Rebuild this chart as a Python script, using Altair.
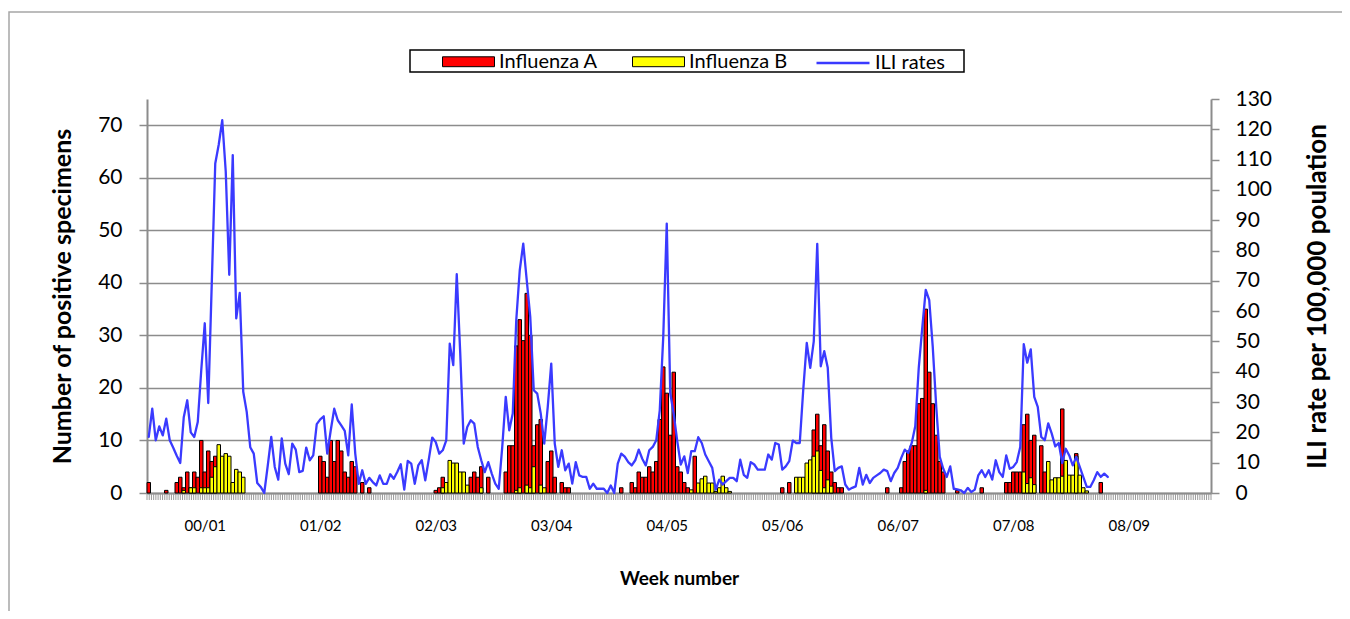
import altair as alt
import numpy as np
import pandas as pd

# ---- data (one value per surveillance week, 33 weeks per block) ----
SEASON_LABELS = ["00/01", "01/02", "02/03", "03/04", "04/05", "05/06", "06/07", "07/08", "08/09"]
WEEKS_PER_SEASON = 33
N_SLOTS = 304

ili_rates = [
    18.5, 27.8, 17.4, 22, 19, 24.5, 17.4, 14.9, 12.3, 9.9, 25, 30.6, 20, 18.5, 23.4, 40.5, 56, 29.7, 69, 108.7, 115, 123, 106, 72, 111.5, 57.6, 66, 33.4, 26.7, 15.1, 13, 3.3, 2,
    0, 9, 18.5, 8.6, 4.4, 18, 9.7, 6.2, 16.3, 14.3, 6.9, 7.3, 15, 10.8, 12.4, 22.7, 24.3, 25.3, 13, 20.7, 27.8, 24, 22.3, 20.5, 12.4, 29.2, 13, 3, 7.5, 3, 5, 3.6, 2.5,
    5.8, 3, 3, 6.2, 4.7, 6.9, 9.5, 1.1, 10.6, 9.7, 3, 9.1, 10.8, 4.2, 11, 18.3, 16.8, 13, 14.1, 17.4, 49.3, 42.2, 72.2, 46, 16.3, 21.8, 24, 22.9, 15.2, 10.8, 6.9, 10.2, 6.4,
    3.1, 1.4, 15.2, 31.7, 20.7, 26.2, 57, 73.5, 82.3, 70.2, 58.1, 33.9, 32.8, 26.2, 16.3, 28.4, 42.7, 16.3, 8.6, 14.1, 7.5, 9.7, 3.1, 10.2, 5.8, 5.3, 5.3, 1.4, 3.1, 1.4, 1.4, 1.4, 0,
    2.5, 0, 9.7, 13, 12, 10.2, 9.1, 10.8, 14.3, 11.3, 9.1, 14.1, 15.2, 17.4, 27.3, 51.5, 88.9, 33, 26, 17.1, 9.4, 12.1, 6.6, 13.8, 13.8, 18.4, 16.5, 12.7, 10.5, 8.3, 1.1, 4.4, 2.8,
    3.9, 5, 5, 3.9, 11, 6, 5, 10.2, 9.4, 7.7, 7.7, 7.7, 12.7, 11, 16.5, 16, 7.7, 8.8, 10.5, 17.3, 16.5, 16.5, 34.1, 49.5, 41.3, 50, 82.2, 41.8, 46.8, 41.3, 18.2, 7.2, 8.3,
    8.8, 2.8, 1.1, 1.7, 2.2, 8.3, 2.8, 6, 3.3, 5, 5.8, 6.6, 7.7, 7.2, 3.9, 6.6, 8.3, 11.6, 14.3, 13.2, 16.5, 22, 41.3, 54.5, 67, 63.6, 48.2, 28.4, 11.9, 8, 5.3, 8.8, 1.4,
    1.2, 0.9, 0, 1.7, 0.3, 1.1, 5.8, 7.5, 5.3, 7.5, 4.4, 10.8, 6.9, 5.3, 12.4, 8, 8.6, 10.2, 15.2, 49.1, 43, 47.4, 31.7, 28.4, 18.5, 17.4, 23, 19.6, 15.4, 16.5, 9.9, 14.6, 12.4,
    9.1, 11.9, 8.6, 5.3, 2, 2, 4.2, 6.9, 5.3, 6.4, 5.3,
]

influenza_a = (
    [2, 0, 0, 0, 0, 0.5, 0, 0, 2, 3, 1, 4, 1, 4, 3, 10, 4, 8, 6, 7] + [0] * 13
    + [0] * 16 + [7, 6, 3, 10, 6, 10, 8, 4, 3, 6, 5, 0, 2, 0, 1] + [0, 0]
    + [0] * 16 + [0.5, 1, 3] + [0] * 7 + [3, 4, 3, 5, 0, 3, 0]
    + [0] * 3 + [4, 9, 9, 28, 33, 29, 38, 30, 9, 13, 14, 0, 6, 8, 3, 0, 2, 1, 1] + [0] * 11
    + [0] * 3 + [1, 0, 0] + [2, 1, 4, 3, 3, 5, 4, 6, 14, 24, 19, 11, 23, 5, 4, 2, 1] + [0, 7] + [0] * 8
    + [0] * 16 + [1, 0, 2] + [0] * 6 + [12, 15, 9, 13, 8, 4, 2, 1]
    + [1] + [0] * 12 + [1] + [0] * 3 + [1, 6, 8, 9, 9, 17, 18, 35, 23, 17, 11, 6, 4] + [0] * 3
    + [0.5] + [0] * 6 + [1] + [0] * 6 + [2, 2, 4, 4, 4, 13, 15, 10, 11, 0, 9, 4] + [0] * 4 + [16, 0, 0]
    + [0, 7.5, 0, 0, 0, 0, 0, 0, 2, 0, 0]
)

influenza_b = (
    [0] * 10 + [0.5, 0, 1, 1, 0, 1, 1, 1, 3, 5, 9.2, 7, 7.5, 7, 2, 4.5, 4, 3] + [0] * 5
    + [0] * 33
    + [0] * 18 + [1, 2, 6.2, 5.7, 5.7, 4, 4, 1.5] + [0] * 3 + [1] + [0] * 3
    + [0] * 6 + [0.5, 1, 0, 1.5, 1, 5, 0, 1.5, 1] + [0] * 18
    + [0] * 23 + [0.6, 0] + [1.9, 2.7, 3.2, 1.9, 1.9, 0.3, 1, 3.2]
    + [1, 0.3] + [0] * 18 + [3, 3, 3, 5.7, 6.3, 7, 8, 4.3, 1, 2.5, 1.3] + [0, 0]
    + [0] * 24 + [0.5] + [0] * 8
    + [0] * 19 + [4, 1.8, 2.9, 1.6, 0, 0, 0, 6, 2.5, 2.9, 2.9, 3.2, 6.2, 3.4]
    + [3.4, 7, 3.4, 1, 0.4, 0, 0, 0, 0, 0, 0]
)

# ---- tables ----
n = len(ili_rates)
weeks = pd.DataFrame({
    "slot": np.arange(n),
    "ili": ili_rates,
    "A": influenza_a,
    "B": influenza_b,
})
weeks["slot_end"] = weeks["slot"] + 1
weeks["mid"] = weeks["slot"] + 0.5
weeks["line_series"] = "ILI rates"

a_rows = weeks[weeks["A"] > 0].assign(series="Influenza A", n_pos=lambda d: d["A"])
b_rows = weeks[weeks["B"] > 0].assign(series="Influenza B", n_pos=lambda d: d["B"])
bars_df = pd.concat([a_rows, b_rows], ignore_index=True)
bars_df["base"] = 0

label_values = [WEEKS_PER_SEASON * k + WEEKS_PER_SEASON / 2 for k in range(len(SEASON_LABELS))]
label_expr = ("[" + ",".join("'%s'" % s for s in SEASON_LABELS) + "]"
              "[round((datum.value - 16.5) / 33)]")
minor_ticks = pd.DataFrame({"t": np.linspace(0, N_SLOTS, 480)})
one = pd.DataFrame({"k": [0]})

W, H = 1064, 394
GRID = "#8c8c8c"
FONT = "Lato"

xscale = alt.Scale(domain=[0, N_SLOTS], nice=False, zero=False)
x_axis = alt.Axis(
    values=label_values, labelExpr=label_expr, ticks=False, grid=False,
    domainColor=GRID, domainWidth=2, labelFont=FONT, labelFontSize=15, labelColor="black",
    labelPadding=25, labelOverlap=False, labelFlush=False,
    title="Week number", titleFont=FONT, titleFontSize=19, titleFontWeight="bold",
    titleColor="black", titlePadding=36)

frame = alt.Chart(one).mark_rect(fillOpacity=0, stroke="#a6a6a6", strokeWidth=1.5).encode(
    x=alt.value(-138), x2=alt.value(1400), y=alt.value(-87), y2=alt.value(800)
)

legend_box = alt.Chart(one).mark_rect(fillOpacity=0, stroke="black", strokeWidth=1.5).encode(
    x=alt.value(263), x2=alt.value(817), y=alt.value(-49), y2=alt.value(-27)
)

bars = alt.Chart(bars_df).mark_bar(stroke="black", strokeWidth=1).encode(
    x=alt.X("slot:Q", scale=xscale, axis=x_axis),
    x2="slot_end:Q",
    y=alt.Y("n_pos:Q", stack=None, scale=alt.Scale(domain=[0, 75], nice=False), axis=alt.Axis(
        values=list(range(0, 80, 10)), grid=True, gridColor=GRID, gridWidth=1.5,
        domainColor=GRID, domainWidth=2, tickColor=GRID, tickSize=8, tickWidth=1.5,
        labelFont=FONT, labelFontSize=21, labelColor="black", labelPadding=17,
        title="Number of positive specimens", titleFont=FONT, titleFontSize=25,
        titleFontWeight="bold", titleColor="black", titlePadding=22)),
    y2="base:Q",
    fill=alt.Fill("series:N", scale=alt.Scale(domain=["Influenza A", "Influenza B"],
                                              range=["#ff0000", "#ffff00"]),
                  legend=alt.Legend(orient="none", legendX=295, legendY=-64, direction="horizontal",
                                    title=None, symbolType="M-1,-0.19H1V0.19H-1Z", symbolSize=2704,
                                    symbolStrokeColor="black", symbolStrokeWidth=1,
                                    labelFont=FONT, labelFontSize=20, labelColor="black",
                                    labelOffset=4, columnPadding=32, padding=0)),
)

line = alt.Chart(weeks).mark_line(strokeWidth=2.3, strokeJoin="round", strokeCap="round").encode(
    x=alt.X("mid:Q", scale=xscale, axis=x_axis),
    y=alt.Y("ili:Q", scale=alt.Scale(domain=[0, 130], nice=False), axis=alt.Axis(
        orient="right", values=list(range(0, 140, 10)), grid=False,
        domainColor=GRID, domainWidth=2, tickColor=GRID, tickSize=8, tickWidth=1.5,
        labelFont=FONT, labelFontSize=21, labelColor="black", labelPadding=16,
        title="ILI rate per 100,000 poulation", titleFont=FONT, titleFontSize=26,
        titleFontWeight="bold", titleColor="black", titleAngle=270, titleBaseline="top",
        titlePadding=33)),
    stroke=alt.Stroke("line_series:N", scale=alt.Scale(domain=["ILI rates"], range=["#3a3aff"]),
                      legend=alt.Legend(orient="none", legendX=668, legendY=-64, title=None,
                                        symbolType="stroke", symbolSize=2809, symbolStrokeWidth=2.3,
                                        labelFont=FONT, labelFontSize=20, labelColor="black",
                                        labelOffset=4, padding=0)),
)

ticks = alt.Chart(minor_ticks).mark_rule(color="#9a9a9a", strokeWidth=1).encode(
    x=alt.X("t:Q", scale=xscale, axis=x_axis),
    y=alt.value(H + 1), y2=alt.value(H + 7),
)

chart = (
    alt.layer(frame, legend_box, bars, line, ticks)
    .resolve_scale(y="independent", fill="independent", stroke="independent")
    .properties(width=W, height=H, padding={"left": 139, "top": 91, "right": 131, "bottom": 118},
                autosize=alt.AutoSizeParams(type="none"), background="white")
    .configure_view(strokeWidth=0)
)

chart.save("out.html", embed_options={"renderer": "svg", "actions": False})
